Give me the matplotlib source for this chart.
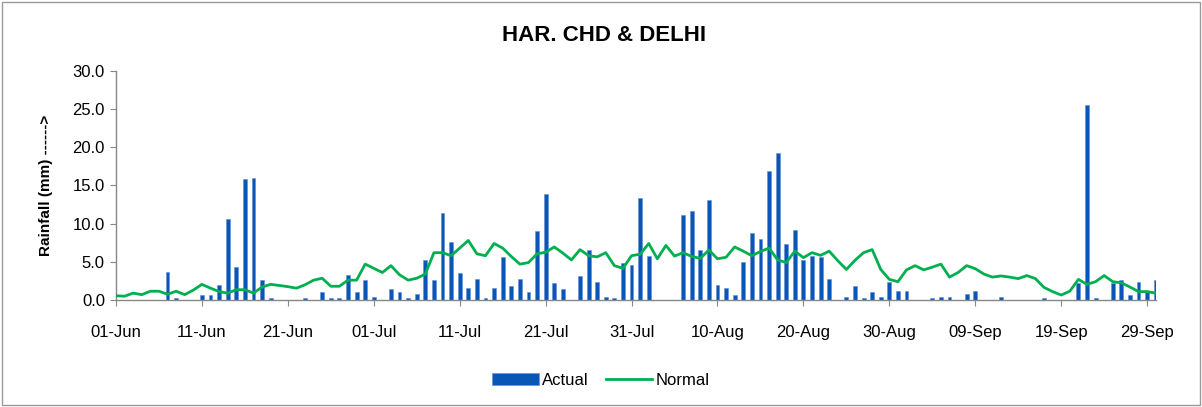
import numpy as np
import pandas as pd
import matplotlib
matplotlib.use("Agg")
import matplotlib.pyplot as plt
from matplotlib.patches import Rectangle

plt.rcParams['font.family'] = ['Liberation Sans', 'DejaVu Sans']

# daily rainfall (mm), 01-Jun to 30-Sep
actual = [
    0, 0, 0, 0, 0, 0, 3.7, 0.3, 0, 0,
    0.7, 0.7, 2.0, 10.6, 4.3, 15.9, 16.0, 2.6, 0.3, 0,
    0, 0, 0.3, 0, 1.0, 0.3, 0.3, 3.3, 1.0, 2.6,
    0.4, 0, 1.4, 1.0, 0.3, 0.8, 5.2, 2.6, 11.4, 7.6,
    3.5, 1.6, 2.7, 0.3, 1.6, 5.6, 1.8, 2.7, 1.0, 9.0,
    13.9, 2.2, 1.4, 0, 3.1, 6.5, 2.4, 0.4, 0.3, 4.8,
    4.6, 13.3, 5.7, 0, 0, 0, 11.1, 11.6, 6.5, 13.1,
    2.0, 1.6, 0.7, 5.0, 8.8, 8.0, 16.9, 19.2, 7.3, 9.2,
    5.2, 5.8, 5.6, 2.8, 0, 0.4, 1.8, 0.3, 1.0, 0.4,
    2.4, 1.2, 1.2, 0, 0, 0.3, 0.4, 0.4, 0, 0.8,
    1.2, 0, 0, 0.4, 0, 0, 0, 0, 0.3, 0,
    0, 0, 2.2, 25.6, 0.3, 0, 2.2, 2.6, 0.7, 2.3,
    1.2, 2.6,
]
normal = [
    0.55, 0.5, 0.9, 0.7, 1.15, 1.15, 0.75, 1.15, 0.7, 1.3,
    2.05, 1.55, 1.1, 0.9, 1.35, 1.35, 0.9, 1.7, 2.05, 1.9,
    1.75, 1.55, 2.0, 2.6, 2.85, 1.8, 1.8, 2.6, 2.6, 4.7,
    4.15, 3.6, 4.5, 3.3, 2.6, 2.85, 3.4, 6.2, 6.2, 5.8,
    6.8, 7.8, 6.05, 5.8, 7.4, 6.8, 5.7, 4.7, 4.9, 6.05,
    6.25, 6.95, 6.15, 5.25, 6.6, 5.8, 5.65, 6.2, 4.5, 4.15,
    5.8, 6.0, 7.4, 5.4, 7.15, 5.75, 6.2, 5.7, 5.45, 6.55,
    5.4, 5.6, 6.95, 6.4, 5.8, 6.35, 6.8, 5.25, 4.9, 6.4,
    5.55, 6.2, 5.85, 6.4, 5.15, 4.0, 5.2, 6.2, 6.6, 4.0,
    2.7, 2.4, 3.95, 4.5, 3.95, 4.3, 4.7, 3.0, 3.6, 4.5,
    4.1, 3.4, 3.0, 3.15, 3.0, 2.8, 3.2, 2.8, 1.65, 1.1,
    0.65, 1.15, 2.7, 2.05, 2.4, 3.2, 2.4, 2.25, 1.7, 1.1,
    1.1, 0.9,
]
dates = pd.date_range('2023-06-01', '2023-09-30', freq='D')
tick_labels = [d.strftime('%d-%b') for d in dates[::10]]

x = np.arange(len(dates))

fig = plt.figure(figsize=(12.02, 4.07), dpi=100)
ax = fig.add_axes([0.0965, 0.2629, 0.865, 0.5627])

bars = ax.bar(x, actual, width=0.45, color='#0a56b6', edgecolor='#5f8fd6',
              linewidth=0.4, label='Actual', zorder=2)
line, = ax.plot(x, normal, color='#00b050', linewidth=2.0, label='Normal', zorder=3)

ax.set_xlim(0, len(dates) - 1)
ax.set_ylim(0, 30)
ax.set_yticks(np.arange(0, 31, 5))
ax.set_yticklabels([f'{v:.1f}' for v in np.arange(0, 31, 5)], fontsize=12)
ax.set_xticks(x[::10])
ax.set_xticklabels(tick_labels, fontsize=12)
ax.tick_params(axis='x', length=4, color='#888888', pad=14)
ax.tick_params(axis='y', length=4, color='#888888', pad=4)

for side in ['top', 'right']:
    ax.spines[side].set_visible(False)
for side in ['left', 'bottom']:
    ax.spines[side].set_color('#888888')
    ax.spines[side].set_linewidth(1.0)

ax.set_ylabel('Rainfall (mm) ------>', fontsize=11, fontweight='bold', labelpad=14)
fig.text(0.5025, 0.912, 'HAR. CHD & DELHI', ha='center', va='center',
         fontsize=16, fontweight='bold')

fig.legend([bars, line], ['Actual', 'Normal'], loc='center',
           bbox_to_anchor=(0.5, 0.065), ncol=2, frameon=False,
           fontsize=12, handlelength=2.8, columnspacing=1.0, handletextpad=0.2)

# chart area border
fig.patches.append(Rectangle((0.002, 0.004), 0.996, 0.992, transform=fig.transFigure,
                             fill=False, edgecolor='#9a9a9a', linewidth=1.0))

fig.savefig('out.png', dpi=100)
